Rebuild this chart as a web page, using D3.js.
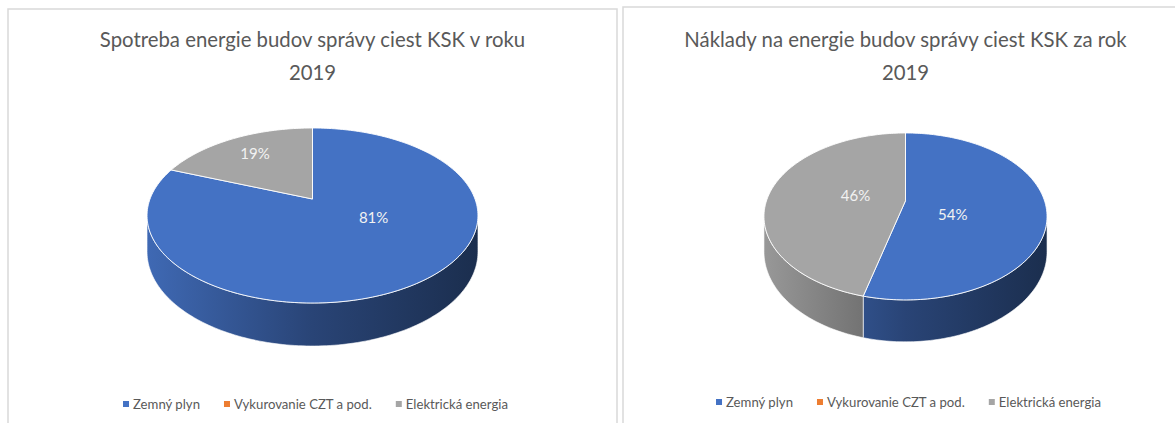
<!DOCTYPE html>
<html>
<head>
<meta charset="utf-8">
<script src="https://cdn.jsdelivr.net/npm/d3@7"></script>
<style>
  body { margin: 0; background: #fff; }
  text { font-family: Lato, "Open Sans", sans-serif; }
</style>
</head>
<body>
<script>
// categories and values
var categories = ['Zemný plyn', 'Vykurovanie CZT a pod.', 'Elektrická energia'];
var colors = ['#4472c4', '#ed7d31', '#a5a5a5'];
var titles = [
  ['Spotreba energie budov správy ciest KSK v roku', '2019'],
  ['Náklady na energie budov správy ciest KSK za rok', '2019']
];
var spotreba = [81, 0, 19];
var naklady = [54, 0, 46];

var svgWidth = 1175;
var svgHeight = 423;

var svg = d3.select('body')
  .append('svg')
  .attr('width', svgWidth)
  .attr('height', svgHeight);

var defs = svg.append('defs');

// panels: frame, pie geometry (perspective tilted disc), label placement [radius, angle shift in deg]
var panels = [
  { x0: 8, x1: 617, y0: 9, values: spotreba, title: titles[0],
    cx: 312.5, vy: 199, A: 162.5, B: 84.4, k: 0.1886, T: 34.9, legendY: 404,
    labelAt: [[0.42, -25], null, [0.72, 1]] },
  { x0: 623, x1: 1190, y0: 7, values: naklady, title: titles[1],
    cx: 905.5, vy: 200.7, A: 139, B: 80.5, k: 0.1886, T: 34, legendY: 402,
    labelAt: [[0.37, 20], null, [0.37, 3]] }
];

panels.forEach(function (p, pi) {
  var g = svg.append('g');

  g.append('rect')
    .attr('x', p.x0)
    .attr('y', p.y0)
    .attr('width', p.x1 - p.x0)
    .attr('height', svgHeight + 20)
    .attr('fill', '#fff')
    .attr('stroke', '#d9d9d9')
    .attr('stroke-width', 1.5);

  // title
  var t = g.append('text')
    .attr('text-anchor', 'middle')
    .attr('fill', '#595959')
    .attr('transform', 'translate(' + p.cx + ',0) scale(0.97,1)')
    .style('font-size', '21px');
  t.append('tspan').attr('x', 0).attr('y', 47).text(p.title[0]);
  t.append('tspan').attr('x', 0).attr('y', 80).text(p.title[1]);

  // projection of a point on the disc: angle clockwise from top, radius fraction, depth 0..1
  function proj(a, r, d) {
    var den = 1 + p.k * r * Math.cos(a);
    return [
      p.cx + p.A * r * Math.sin(a) / den,
      p.vy - p.B * r * Math.cos(a) / den + (d || 0) * p.T / den
    ];
  }
  function arcPts(a0, a1, d) {
    var n = Math.max(2, Math.ceil(Math.abs(a1 - a0) / 0.02));
    return d3.range(n + 1).map(function (i) {
      return proj(a0 + (a1 - a0) * i / n, 1, d);
    });
  }

  var pie = d3.pie().sort(null).startAngle(0).endAngle(2 * Math.PI);
  var arcs = pie(p.values);

  // side gradients, light on the left, dark on the right
  var half = p.A / Math.sqrt(1 - p.k * p.k);
  colors.forEach(function (c, ci) {
    var grad = defs.append('linearGradient')
      .attr('id', 'side' + pi + '_' + ci)
      .attr('gradientUnits', 'userSpaceOnUse')
      .attr('x1', p.cx - half).attr('x2', p.cx + half)
      .attr('y1', 0).attr('y2', 0);
    [[0, 0.92], [0.5, 0.6], [1, 0.4]].forEach(function (s) {
      var col = d3.rgb(c);
      grad.append('stop')
        .attr('offset', s[0])
        .attr('stop-color', d3.rgb(col.r * s[1], col.g * s[1], col.b * s[1]).formatHex());
    });
  });

  // visible outer wall range
  var wl = Math.acos(-p.k), wr = 2 * Math.PI - Math.acos(-p.k);
  var line = d3.line();

  arcs.forEach(function (d, i) {
    if (d.value <= 0) return;
    var a0 = Math.max(d.startAngle, wl), a1 = Math.min(d.endAngle, wr);
    if (a1 <= a0) return;
    var pts = arcPts(a0, a1, 0).concat(arcPts(a1, a0, 1));
    g.append('path')
      .attr('d', line(pts) + 'Z')
      .attr('fill', 'url(#side' + pi + '_' + i + ')')
      .attr('stroke', '#fff')
      .attr('stroke-width', 0.6)
      .attr('stroke-linejoin', 'round');
  });

  arcs.forEach(function (d, i) {
    if (d.value <= 0) return;
    var pts = [proj(0, 0, 0)].concat(arcPts(d.startAngle, d.endAngle, 0));
    g.append('path')
      .attr('d', line(pts) + 'Z')
      .attr('fill', colors[i])
      .attr('stroke', '#fff')
      .attr('stroke-width', 0.9)
      .attr('stroke-linejoin', 'round');
  });

  // data labels
  var total = d3.sum(p.values);
  arcs.forEach(function (d, i) {
    if (d.value <= 0) return;
    var mid = (d.startAngle + d.endAngle) / 2 + p.labelAt[i][1] * Math.PI / 180;
    var pos = proj(mid, p.labelAt[i][0], 0);
    g.append('text')
      .attr('x', pos[0])
      .attr('y', pos[1])
      .attr('dy', '0.35em')
      .attr('text-anchor', 'middle')
      .attr('fill', '#f2f2f2')
      .style('font-size', '15px')
      .text(Math.round(d.value / total * 100) + '%');
  });

  // legend
  var lg = g.append('g');
  var x = 0;
  categories.forEach(function (c, i) {
    lg.append('rect')
      .attr('x', x).attr('y', -3)
      .attr('width', 6).attr('height', 6)
      .attr('fill', colors[i]);
    var tx = lg.append('text')
      .attr('transform', 'translate(' + (x + 10) + ',0) scale(0.94,1)')
      .attr('dy', '0.35em')
      .attr('fill', '#595959')
      .style('font-size', '14px')
      .text(c);
    x += 10 + tx.node().getComputedTextLength() * 0.94 + 24;
  });
  x -= 24;
  lg.attr('transform', 'translate(' + (p.cx - x / 2 + 3) + ',' + p.legendY + ')');
});
</script>
</body>
</html>
